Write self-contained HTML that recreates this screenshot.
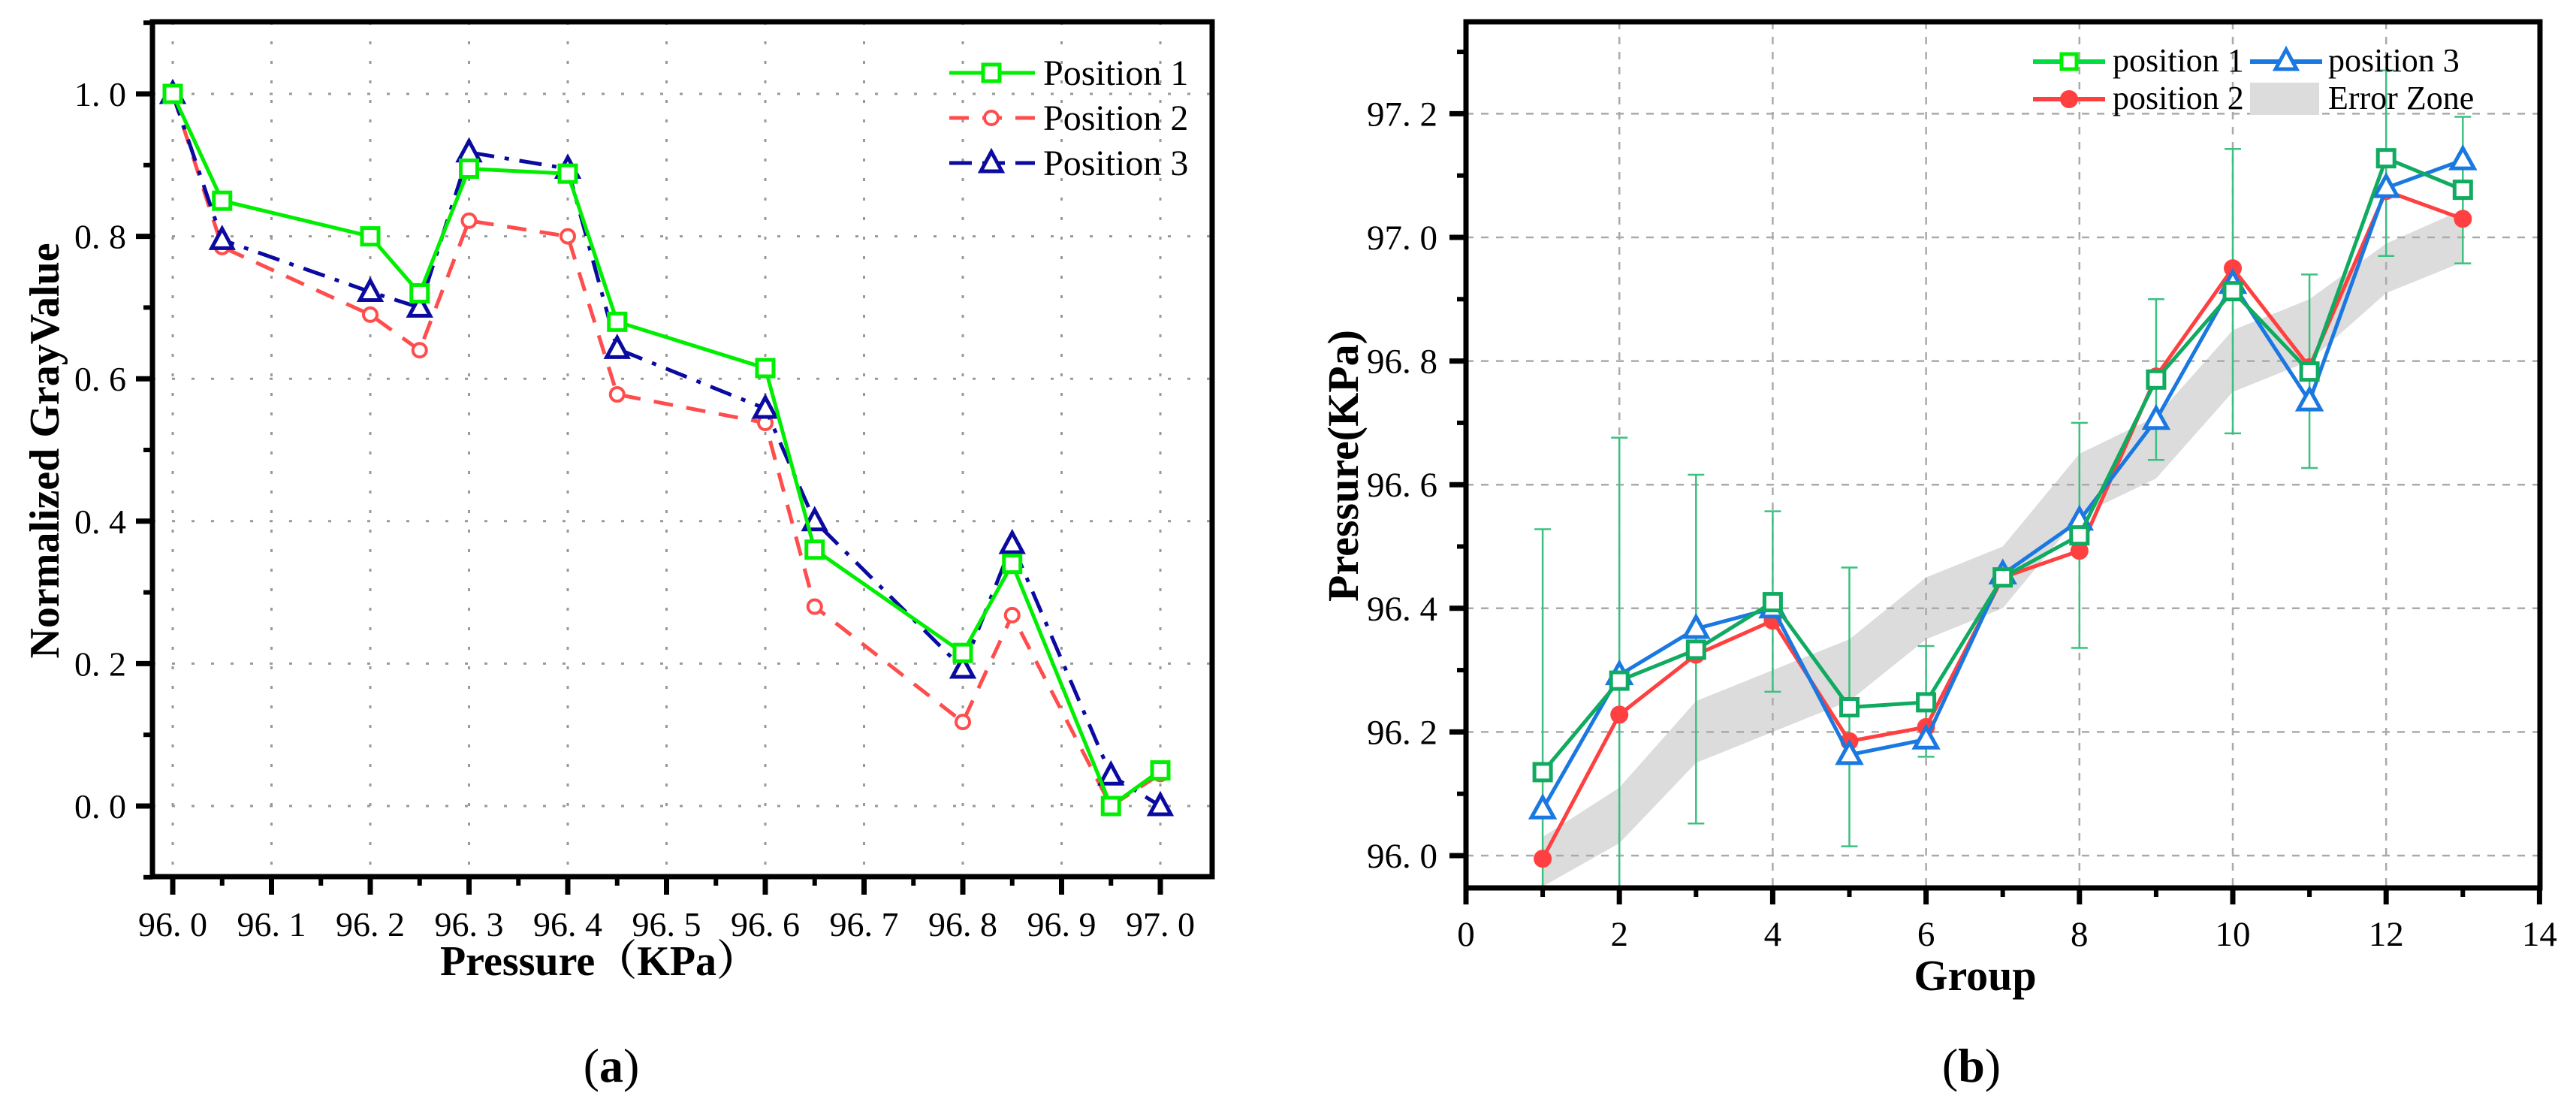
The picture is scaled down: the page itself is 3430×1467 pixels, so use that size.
<!DOCTYPE html>
<html><head><meta charset="utf-8">
<style>
html,body{margin:0;padding:0;background:#fff;}
svg{display:block;font-family:"Liberation Serif","Noto Serif CJK SC",serif;}
svg text{font-family:"Liberation Serif","Noto Serif CJK SC",serif;fill:#000;}
</style></head>
<body>
<svg id="fig" width="3430" height="1467" viewBox="0 0 3430 1467" xmlns="http://www.w3.org/2000/svg" font-family="Liberation Serif, Noto Serif CJK SC, serif">
<g id="chartA"></g>
<g id="chartB"></g>
</svg>
<script>
// ---------- Chart (a) data ----------
const aPressure = [96.0, 96.05, 96.2, 96.25, 96.3, 96.4, 96.45, 96.6, 96.65, 96.8, 96.85, 96.95, 97.0];
const aPos1 = [1.0, 0.85, 0.80, 0.72, 0.895, 0.888, 0.68, 0.615, 0.36, 0.215, 0.34, 0.0, 0.05];
const aPos2 = [1.0, 0.785, 0.69, 0.64, 0.822, 0.80, 0.578, 0.538, 0.28, 0.118, 0.268, 0.0, 0.045];
const aPos3 = [1.0, 0.795, 0.722, 0.70, 0.918, 0.895, 0.642, 0.558, 0.40, 0.193, 0.368, 0.043, 0.0];
const aXTicks = [96.0, 96.1, 96.2, 96.3, 96.4, 96.5, 96.6, 96.7, 96.8, 96.9, 97.0];
const aXTickLabels = ["96. 0","96. 1","96. 2","96. 3","96. 4","96. 5","96. 6","96. 7","96. 8","96. 9","97. 0"];
const aYTicks = [0.0, 0.2, 0.4, 0.6, 0.8, 1.0];
const aYTickLabels = ["0. 0","0. 2","0. 4","0. 6","0. 8","1. 0"];
// ---------- Chart (b) data ----------
const bGroups = [1,2,3,4,5,6,7,8,9,10,11,12,13];
const bPos1 = [96.135, 96.283, 96.333, 96.41, 96.24, 96.248, 96.45, 96.518, 96.77, 96.913, 96.783, 97.128, 97.077];
const bPos2 = [95.995, 96.228, 96.325, 96.38, 96.185, 96.208, 96.45, 96.493, 96.775, 96.95, 96.79, 97.075, 97.03];
const bPos3 = [96.075, 96.292, 96.367, 96.40, 96.163, 96.188, 96.455, 96.542, 96.705, 96.925, 96.735, 97.08, 97.125];
const bErrHigh = [96.528, 96.676, 96.616, 96.557, 96.466, 96.339, 96.46, 96.70, 96.90, 97.143, 96.94, 97.27, 97.195];
const bErrLow = [95.93, 95.93, 96.052, 96.265, 96.015, 96.16, 96.44, 96.336, 96.64, 96.683, 96.627, 96.97, 96.958];
const bZoneHigh = [96.03, 96.11, 96.25, 96.30, 96.35, 96.45, 96.50, 96.65, 96.71, 96.85, 96.90, 96.99, 97.045];
const bZoneLow = [95.95, 96.02, 96.15, 96.20, 96.25, 96.35, 96.40, 96.55, 96.61, 96.75, 96.80, 96.91, 96.96];
const bXTicks = [0,2,4,6,8,10,12,14];
const bYTicks = [96.0, 96.2, 96.4, 96.6, 96.8, 97.0, 97.2];
const bYTickLabels = ["96. 0","96. 2","96. 4","96. 6","96. 8","97. 0","97. 2"];

const NS = "http://www.w3.org/2000/svg";
const FF = "Liberation Serif, Noto Serif CJK SC, serif";
function el(parent, tag, attrs, txt){
  const e = document.createElementNS(NS, tag);
  for (const k in attrs) e.setAttribute(k, attrs[k]);
  if (tag === 'text') e.setAttribute('font-family', FF);
  if (txt !== undefined) e.textContent = txt;
  parent.appendChild(e);
  return e;
}

// ================= Chart A =================
(function(){
  const g = document.getElementById('chartA');
  const L=203, R=1614, T=29, B=1167;
  const x = v => 230 + (v-96.0)*1315;
  const y = v => 1073 - v*948;
  aXTicks.forEach(t=>{ const l=el(g,'line',{x1:x(t),x2:x(t),y1:T,y2:B,stroke:'#999','stroke-width':3,'stroke-dasharray':'4 22'});
      });
  aYTicks.forEach(t=>{ const l=el(g,'line',{x1:L,x2:R,y1:y(t),y2:y(t),stroke:'#999','stroke-width':3,'stroke-dasharray':'4 22'});
      });
  const fr=el(g,'rect',{x:L,y:T,width:R-L,height:B-T,fill:'none',stroke:'#000','stroke-width':7});
   
  aXTicks.forEach((t,i)=>{
    const tk=el(g,'line',{x1:x(t),x2:x(t),y1:B,y2:B+24,stroke:'#000','stroke-width':7});
     
    if (i<aXTicks.length-1){ const m=el(g,'line',{x1:x(t+0.05),x2:x(t+0.05),y1:B,y2:B+12,stroke:'#000','stroke-width':6});
        }
    const lb=el(g,'text',{x:x(t),y:1246,'font-size':46,'text-anchor':'middle'},aXTickLabels[i]);
     
  });
  aYTicks.forEach((t,i)=>{
    const tk=el(g,'line',{x1:L-22,x2:L,y1:y(t),y2:y(t),stroke:'#000','stroke-width':7});
     
    const lb=el(g,'text',{x:168,y:y(t)+16,'font-size':46,'text-anchor':'end'},aYTickLabels[i]);
     
  });
  [-0.1,0.1,0.3,0.5,0.7,0.9,1.1].forEach(t=>{ const m=el(g,'line',{x1:L-12,x2:L,y1:y(t),y2:y(t),stroke:'#000','stroke-width':6});
      });
  const series=[
    {d:aPos2,c:'#ff4d4d',dash:'26 18',m:'circle',name:'series-position-2'},
    {d:aPos3,c:'#0a0aa0',dash:'30 14 6 14',m:'tri',name:'series-position-3'},
    {d:aPos1,c:'#00ee00',dash:'',m:'sq',name:'series-position-1'}
  ];
  series.forEach(s=>{
    const sg=el(g,'g',{});
     
    const pts=aPressure.map((p,i)=>x(p)+','+y(s.d[i])).join(' ');
    const pl=el(sg,'polyline',{points:pts,fill:'none',stroke:s.c,'stroke-width':5,'stroke-dasharray':s.dash});
     
    aPressure.forEach((p,i)=>{
      const cx=x(p), cy=y(s.d[i]); let mk;
      if(s.m==='circle') mk=el(sg,'circle',{cx:cx,cy:cy,r:9,fill:'#fff',stroke:s.c,'stroke-width':4});
      else if(s.m==='sq') mk=el(sg,'rect',{x:cx-11,y:cy-11,width:22,height:22,fill:'#fff',stroke:s.c,'stroke-width':5});
      else mk=el(sg,'polygon',{points:`${cx},${cy-15} ${cx-14},${cy+11} ${cx+14},${cy+11}`,fill:'#fff',stroke:s.c,'stroke-width':5});
       
    });
  });
  const lg=el(g,'g',{});
   
  const leg=[['Position 1','#00ee00','','sq',97],['Position 2','#ff4d4d','26 18','circle',157],['Position 3','#0a0aa0','30 14','tri',217]];
  leg.forEach(r=>{
    const e=el(lg,'g',{});
     
    el(e,'line',{x1:1264,x2:1378,y1:r[4],y2:r[4],stroke:r[1],'stroke-width':5,'stroke-dasharray':r[2]});
    const cx=1320, cy=r[4];
    if(r[3]==='circle') el(e,'circle',{cx:cx,cy:cy,r:9,fill:'#fff',stroke:r[1],'stroke-width':4});
    else if(r[3]==='sq') el(e,'rect',{x:cx-11,y:cy-11,width:22,height:22,fill:'#fff',stroke:r[1],'stroke-width':5});
    else el(e,'polygon',{points:`${cx},${cy-15} ${cx-14},${cy+11} ${cx+14},${cy+11}`,fill:'#fff',stroke:r[1],'stroke-width':5});
    el(e,'text',{x:1389,y:r[4]+16,'font-size':48},r[0]);
  });
  const xt=el(g,'text',{x:798,y:1298,'font-size':56,'font-weight':'bold','text-anchor':'middle'},'Pressure（KPa）');
   
  const yt=el(g,'text',{x:0,y:0,'font-size':56,'font-weight':'bold','text-anchor':'middle',transform:'translate(78,600) rotate(-90)'},'Normalized GrayValue');
   
  const cap=el(g,'text',{x:814,y:1440,'font-size':64,'text-anchor':'middle'},'(a)');
   
  cap.innerHTML='(<tspan font-weight="bold">a</tspan>)';
})();

// ================= Chart B =================
(function(){
  const g = document.getElementById('chartB');
  const L=1952, R=3382, T=29, B=1182;
  const x = v => 1952 + v*102.1;
  const y = v => 1139 - (v-96.0)*823;
  const up=bGroups.map((c,i)=>x(c)+','+y(bZoneHigh[i]));
  const lo=bGroups.map((c,i)=>x(c)+','+y(bZoneLow[i])).reverse();
  const z=el(g,'polygon',{points:up.concat(lo).join(' '),fill:'#dcdcdc'});
   
  bXTicks.slice(1,-1).forEach(t=>{ const l=el(g,'line',{x1:x(t),x2:x(t),y1:T,y2:B,stroke:'#aaa','stroke-width':2.5,'stroke-dasharray':'10 10'});
      });
  bYTicks.forEach(t=>{ const l=el(g,'line',{x1:L,x2:R,y1:y(t),y2:y(t),stroke:'#aaa','stroke-width':2.5,'stroke-dasharray':'10 10'});
      });
  bGroups.forEach((c,i)=>{
    const eg=el(g,'g',{});
     
    const yh=y(bErrHigh[i]), yl=Math.min(y(bErrLow[i]),B);
    el(eg,'line',{x1:x(c),x2:x(c),y1:yh,y2:yl,stroke:'#3cc080','stroke-width':2.5});
    el(eg,'line',{x1:x(c)-11,x2:x(c)+11,y1:yh,y2:yh,stroke:'#3cc080','stroke-width':2.5});
    if (y(bErrLow[i])<B) el(eg,'line',{x1:x(c)-11,x2:x(c)+11,y1:yl,y2:yl,stroke:'#3cc080','stroke-width':2.5});
  });
  const fr=el(g,'rect',{x:L,y:T,width:R-L,height:B-T,fill:'none',stroke:'#000','stroke-width':7});
   
  bXTicks.forEach((t,i)=>{
    const tk=el(g,'line',{x1:x(t),x2:x(t),y1:B,y2:B+22,stroke:'#000','stroke-width':7});
     
    if(i<bXTicks.length-1){ const m=el(g,'line',{x1:x(t+1),x2:x(t+1),y1:B,y2:B+12,stroke:'#000','stroke-width':6});
        }
    const lb=el(g,'text',{x:x(t),y:1259,'font-size':47,'text-anchor':'middle'},String(t));
     
  });
  bYTicks.forEach((t,i)=>{
    const tk=el(g,'line',{x1:L-22,x2:L,y1:y(t),y2:y(t),stroke:'#000','stroke-width':7});
     
    const lb=el(g,'text',{x:1914,y:y(t)+16,'font-size':47,'text-anchor':'end'},bYTickLabels[i]);
     
  });
  [96.1,96.3,96.5,96.7,96.9,97.1,97.3].forEach(t=>{ const m=el(g,'line',{x1:L-12,x2:L,y1:y(t),y2:y(t),stroke:'#000','stroke-width':6});
      });
  const series=[
    {d:bPos2,c:'#ff4040',m:'dot',name:'series-position-2'},
    {d:bPos3,c:'#1a78e0',m:'tri',name:'series-position-3'},
    {d:bPos1,c:'#10aa60',m:'sq',name:'series-position-1'}
  ];
  series.forEach(s=>{
    const sg=el(g,'g',{});
     
    const pts=bGroups.map((c,i)=>x(c)+','+y(s.d[i])).join(' ');
    const pl=el(sg,'polyline',{points:pts,fill:'none',stroke:s.c,'stroke-width':5});
     
    bGroups.forEach((c,i)=>{
      const cx=x(c), cy=y(s.d[i]); let mk;
      if(s.m==='dot') mk=el(sg,'circle',{cx:cx,cy:cy,r:12,fill:s.c,stroke:'none'});
      else if(s.m==='sq') mk=el(sg,'rect',{x:cx-11,y:cy-11,width:22,height:22,fill:'#fff',stroke:s.c,'stroke-width':5});
      else mk=el(sg,'polygon',{points:`${cx},${cy-16} ${cx-15},${cy+11} ${cx+15},${cy+11}`,fill:'#fff',stroke:s.c,'stroke-width':5});
       
    });
  });
  const lg=el(g,'g',{});
   
  const e1=el(lg,'g',{});  
  el(e1,'line',{x1:2707,x2:2803,y1:82,y2:82,stroke:'#00dd44','stroke-width':6});
  el(e1,'rect',{x:2745,y:72,width:20,height:20,fill:'#fff',stroke:'#00ee00','stroke-width':5});
  el(e1,'text',{x:2813,y:95,'font-size':44},'position 1');
  const e2=el(lg,'g',{});  
  el(e2,'line',{x1:2707,x2:2803,y1:132,y2:132,stroke:'#ff4040','stroke-width':6});
  el(e2,'circle',{cx:2755,cy:132,r:12,fill:'#ff4040'});
  el(e2,'text',{x:2813,y:145,'font-size':44},'position 2');
  const e3=el(lg,'g',{});  
  el(e3,'line',{x1:2996,x2:3092,y1:82,y2:82,stroke:'#1a78e0','stroke-width':6});
  el(e3,'polygon',{points:'3044,66 3030,92 3058,92',fill:'#fff',stroke:'#1a78e0','stroke-width':5});
  el(e3,'text',{x:3100,y:95,'font-size':44},'position 3');
  const e4=el(lg,'g',{});  
  el(e4,'rect',{x:2996,y:110,width:92,height:43,fill:'#dcdcdc'});
  el(e4,'text',{x:3100,y:145,'font-size':44},'Error Zone');
  const xt=el(g,'text',{x:2630,y:1318,'font-size':58,'font-weight':'bold','text-anchor':'middle'},'Group');
   
  const yt=el(g,'text',{x:0,y:0,'font-size':58,'font-weight':'bold','text-anchor':'middle',transform:'translate(1808,620) rotate(-90)'},'Pressure(KPa)');
   
  const cap=el(g,'text',{x:2625,y:1440,'font-size':64,'text-anchor':'middle'},'(b)');
   
  cap.innerHTML='(<tspan font-weight="bold">b</tspan>)';
})();
</script>
</body></html>
